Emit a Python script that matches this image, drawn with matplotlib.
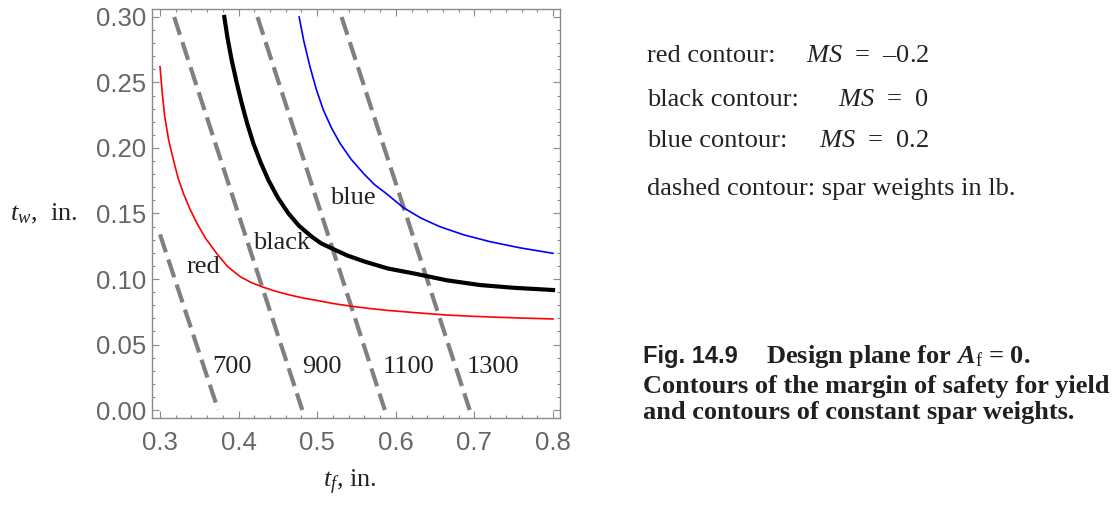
import matplotlib
matplotlib.use("Agg")
import matplotlib.pyplot as plt
from matplotlib.ticker import MultipleLocator, FormatStrFormatter

# ---------------- data ----------------
red_tf = [0.300, 0.303, 0.306, 0.311, 0.317, 0.323, 0.330, 0.338, 0.347, 0.358, 0.372, 0.386, 0.402,
          0.416, 0.432, 0.448, 0.465, 0.482, 0.500, 0.520, 0.540, 0.565, 0.590, 0.625, 0.665, 0.695,
          0.730, 0.765, 0.800]
red_tw = [0.262, 0.241, 0.224, 0.206, 0.191, 0.177, 0.165, 0.1535, 0.1425, 0.131, 0.1196, 0.1095, 0.1018,
          0.0973, 0.0936, 0.0905, 0.0878, 0.0855, 0.0836, 0.0813, 0.0795, 0.0776, 0.0760, 0.0743, 0.0725,
          0.0716, 0.0708, 0.0701, 0.0695]

black_tf = [0.3818, 0.386, 0.3912, 0.3975, 0.404, 0.411, 0.4187, 0.428, 0.4378, 0.450, 0.4633, 0.477,
            0.493, 0.505, 0.5184, 0.538, 0.5608, 0.590, 0.625, 0.665, 0.707, 0.750, 0.800]
black_tw = [0.300, 0.2835, 0.267, 0.250, 0.234, 0.2185, 0.2036, 0.189, 0.1756, 0.162, 0.1501, 0.1405,
            0.1323, 0.1272, 0.1234, 0.118, 0.1132, 0.108, 0.1040, 0.0990, 0.0954, 0.0933, 0.0916]

blue_tf = [0.477, 0.483, 0.4908, 0.499, 0.5078, 0.518, 0.529, 0.543, 0.5587, 0.573, 0.5884, 0.6095,
           0.632, 0.6562, 0.686, 0.7198, 0.758, 0.800]
blue_tw = [0.300, 0.2815, 0.262, 0.2445, 0.229, 0.2155, 0.2036, 0.1915, 0.1807, 0.172, 0.165, 0.1545,
           0.1465, 0.1399, 0.1338, 0.1285, 0.1238, 0.1196]

weights = [700, 900, 1100, 1300]
weight_tf = [[0.300, 0.374], [0.318, 0.481], [0.424, 0.586], [0.531, 0.694]]
weight_tw = [[0.134, 0.000], [0.300, 0.000], [0.300, 0.000], [0.300, 0.000]]
weight_label_tf = [0.3662, 0.4807, 0.5837, 0.6906]
weight_label_tw = 0.0282

curve_names = ["red", "black", "blue"]
curve_label_tf = [0.334, 0.4187, 0.5163]
curve_label_tw = [0.1048, 0.1229, 0.1573]

legend_names = ["red contour:", "black contour:", "blue contour:"]
legend_ms = ["\u20130.2", "0", "0.2"]

x_ticks = [0.3, 0.4, 0.5, 0.6, 0.7, 0.8]
y_ticks = [0.00, 0.05, 0.10, 0.15, 0.20, 0.25, 0.30]

# ---------------- style ----------------
plt.rcParams["mathtext.fontset"] = "custom"
plt.rcParams["mathtext.rm"] = "Liberation Serif"
plt.rcParams["mathtext.it"] = "Liberation Serif:italic"
plt.rcParams["mathtext.bf"] = "Liberation Serif:bold"
plt.rcParams["mathtext.bfit"] = "Liberation Serif:italic:bold"
plt.rcParams["lines.scale_dashes"] = False

W, H = 1116, 509
fig = plt.figure(figsize=(W / 100, H / 100), dpi=100)

def fx(px):
    return px / W

def fy(py):
    return 1 - py / H

ax = fig.add_axes([fx(152), fy(418), fx(560) - fx(152), fy(9) - fy(418)])
ax.set_xlim(0.2898, 0.8089)
ax.set_ylim(-0.0061, 0.3061)

frame_col = "#8a8a8a"
label_col = "#666666"
for s in ax.spines.values():
    s.set_color(frame_col)
    s.set_linewidth(1.0)

ax.xaxis.set_minor_locator(MultipleLocator(0.02))
ax.yaxis.set_minor_locator(MultipleLocator(0.01))
ax.set_xticks(x_ticks)
ax.set_yticks(y_ticks)
ax.xaxis.set_major_formatter(FormatStrFormatter("%.1f"))
ax.yaxis.set_major_formatter(FormatStrFormatter("%.2f"))
ax.tick_params(which="both", direction="in", top=True, right=True, color=frame_col, width=0.8)
ax.tick_params(which="major", length=5)
ax.tick_params(which="minor", length=2.5)
ax.tick_params(axis="x", which="major", pad=9, labelsize=18.5, labelcolor=label_col)
ax.tick_params(axis="y", which="major", pad=4, labelsize=18.5, labelcolor=label_col)
for lab in ax.get_xticklabels() + ax.get_yticklabels():
    lab.set_fontfamily("Liberation Sans")

# dashed weight contours
for tf, tw in zip(weight_tf, weight_tw):
    ax.plot(tf, tw, color="#808080", lw=3.0, dashes=(13.5, 5.5), solid_capstyle="butt",
            dash_capstyle="butt", clip_on=True)

# margin of safety contours
ax.plot(red_tf, red_tw, color="#ff0000", lw=1.2, solid_joinstyle="round")
ax.plot(black_tf, black_tw, color="black", lw=3.0, solid_joinstyle="round")
ax.plot(blue_tf, blue_tw, color="#0000ff", lw=1.2, solid_joinstyle="round")

serif = "Liberation Serif"
for name, x, y in zip(curve_names, curve_label_tf, curve_label_tw):
    ax.text(x, y, name, fontsize=19, family=serif, color="#222222", ha="left", va="baseline")
for w, x in zip(weights, weight_label_tf):
    ax.text(x, weight_label_tw, str(w), fontsize=19, family=serif, color="#222222", ha="left", va="baseline")

# axis labels
fig.text(fx(10), fy(220), r"$t_w$,  in.", fontsize=19, family=serif, color="#222222", ha="left", va="baseline")
fig.text(fx(323), fy(487), r"$t_f$, in.", fontsize=19, family=serif, color="#222222", ha="left", va="baseline")

# right-hand legend text
leg_base = [61.7, 106, 146.7]
for name, ms, yb in zip(legend_names, legend_ms, leg_base):
    fig.text(fx(647), fy(yb), name, fontsize=19, family=serif, color="#222222", ha="left", va="baseline")
    fig.text(fx(929), fy(yb), r"$MS$  =  " + ms, fontsize=19, family=serif, color="#222222",
             ha="right", va="baseline")
fig.text(fx(647), fy(195), "dashed contour: spar weights in lb.", fontsize=19, family=serif,
         color="#222222", ha="left", va="baseline")

# caption
cap_col = "#231f20"
fig.text(fx(643), fy(363), "Fig. 14.9", fontsize=17, family="Liberation Sans", weight="bold",
         color=cap_col, ha="left", va="baseline")
fig.text(fx(766), fy(363), r"Design plane for $\mathbfit{A}_{\mathrm{f}}$ = 0.", fontsize=19, family=serif,
         weight="bold", color=cap_col, ha="left", va="baseline")
fig.text(fx(643), fy(393), "Contours of the margin of safety for yield", fontsize=19, family=serif,
         weight="bold", color=cap_col, ha="left", va="baseline")
fig.text(fx(643), fy(419), "and contours of constant spar weights.", fontsize=19, family=serif,
         weight="bold", color=cap_col, ha="left", va="baseline")

fig.savefig("out.png", dpi=100)
